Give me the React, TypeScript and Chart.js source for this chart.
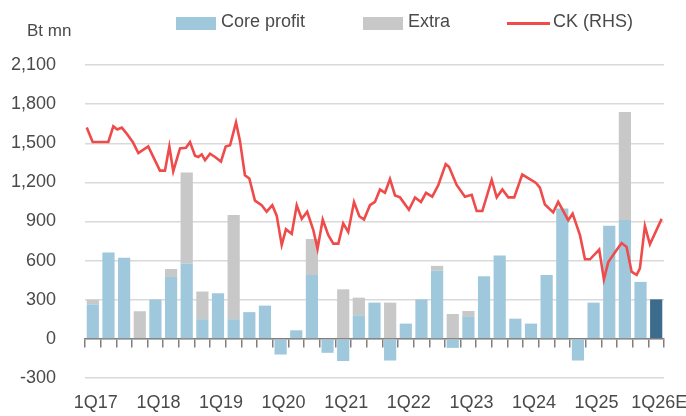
import React, { useEffect, useRef } from 'react';
import { Chart, registerables } from 'chart.js';

Chart.register(...registerables);

// ---------- DATA ----------
const categories = [
  '1Q17', '2Q17', '3Q17', '4Q17',
  '1Q18', '2Q18', '3Q18', '4Q18',
  '1Q19', '2Q19', '3Q19', '4Q19',
  '1Q20', '2Q20', '3Q20', '4Q20',
  '1Q21', '2Q21', '3Q21', '4Q21',
  '1Q22', '2Q22', '3Q22', '4Q22',
  '1Q23', '2Q23', '3Q23', '4Q23',
  '1Q24', '2Q24', '3Q24', '4Q24',
  '1Q25', '2Q25', '3Q25', '4Q25',
  '1Q26E',
];

const shownTickLabels = ['1Q17', '1Q18', '1Q19', '1Q20', '1Q21', '1Q22', '1Q23', '1Q24', '1Q25', '1Q26E'];

const coreProfit = [
  265, 662, 623, 0,
  302, 475, 577, 151,
  350, 151, 205, 255,
  -120, 66, 490, -107,
  -170, 181, 278, -166,
  117, 303, 524, -69,
  168, 480, 640, 155,
  117, 490, 1000, -166,
  278, 868, 912, 437,
  303,
];

const extra = [
  35, 0, 0, 212,
  0, 61, 698, 212,
  0, 799, 0, 0,
  0, 0, 276, 0,
  380, 135, 0, 278,
  0, 0, 36, 191,
  46, 0, 0, 0,
  0, 0, 0, 0,
  0, 0, 827, 0,
  0,
];

// CK share price (RHS), position in quarters from 1Q17 (0 = 1Q17)
const ckQuarter = [
  -0.39, -0.01, 0.99, 1.31, 1.56, 1.85, 2.16, 2.55, 2.91, 3.54,
  4.29, 4.61, 4.89, 5.14, 5.57, 5.95, 6.21, 6.53, 6.74, 6.96,
  7.17, 7.49, 7.81, 8.19, 8.49, 8.77, 9.15, 9.40, 9.72, 10.0,
  10.36, 10.79, 11.11, 11.47, 11.75, 12.07, 12.34, 12.71, 13.03, 13.35,
  13.70, 14.09, 14.36, 14.69, 15.05, 15.37, 15.69, 16.0, 16.32, 16.69,
  17.03, 17.33, 17.71, 18.03, 18.35, 18.67, 18.99, 19.31, 19.63, 20.20,
  20.59, 20.97, 21.29, 21.69, 22.08, 22.55, 22.76, 23.25, 23.78, 24.21,
  24.53, 24.89, 25.49, 25.81, 26.17, 26.55, 26.93, 27.44, 28.0, 28.32,
  28.57, 28.89, 29.42, 29.74, 30.38, 30.66, 31.13, 31.45, 31.77, 32.36,
  32.66, 32.94, 33.37, 33.79, 34.11, 34.43, 34.75, 34.96, 35.28, 35.60,
  36.35,
];

const ckValues = [
  1620, 1510, 1510, 1630, 1605, 1620, 1575, 1510, 1425, 1475,
  1290, 1290, 1475, 1285, 1460, 1465, 1510, 1405, 1395, 1415,
  1370, 1420, 1395, 1360, 1475, 1485, 1660, 1520, 1255, 1230,
  1060, 1025, 975, 1025, 945, 720, 840, 805, 1025, 920,
  975, 835, 690, 915, 795, 730, 730, 885, 820, 1050,
  940, 915, 1025, 1050, 1145, 1120, 1225, 1100, 1085, 990,
  1085, 1050, 1120, 1090, 1180, 1340, 1320, 1180, 1090, 1105,
  980, 980, 1220, 1085, 1145, 1085, 1085, 1260, 1220, 1195,
  1160, 1030, 970, 1050, 910, 960, 795, 610, 610, 685,
  455, 590, 665, 735, 705, 515, 490, 540, 865, 725,
  920,
];

const yTicks = [-300, 0, 300, 600, 900, 1200, 1500, 1800, 2100];

// ---------- STYLE ----------
const FONT = "'Liberation Sans', Arial, sans-serif";
const TEXT = '#4A4A4A';
const CORE = '#A0C8DC';
const CORE_EST = '#3D6B8C';
const EXTRA = '#C8C8C8';
const LINE = '#EF4B4B';

const legendItems = [
  { label: 'Core profit', kind: 'box', color: CORE, x: 176 },
  { label: 'Extra', kind: 'box', color: EXTRA, x: 363 },
  { label: 'CK (RHS)', kind: 'line', color: LINE, x: 507 },
];

const overlayPlugin = {
  id: 'overlay',
  afterDraw(chart: any) {
    const ctx = chart.ctx;
    ctx.save();
    ctx.fillStyle = TEXT;
    ctx.textBaseline = 'middle';
    ctx.textAlign = 'left';
    ctx.font = `17px ${FONT}`;
    ctx.fillText('Bt mn', 27, 31);
    ctx.font = `18px ${FONT}`;
    for (const it of legendItems) {
      if (it.kind === 'box') {
        ctx.fillStyle = it.color;
        ctx.fillRect(it.x, 17, 40, 13);
        ctx.fillStyle = TEXT;
        ctx.fillText(it.label, it.x + 45, 22);
      } else {
        ctx.strokeStyle = it.color;
        ctx.lineWidth = 3;
        ctx.beginPath();
        ctx.moveTo(it.x, 23.5);
        ctx.lineTo(it.x + 43, 23.5);
        ctx.stroke();
        ctx.fillStyle = TEXT;
        ctx.fillText(it.label, it.x + 46, 22);
      }
    }
    ctx.restore();
  },
};

export default function App() {
  const canvasRef = useRef<HTMLCanvasElement | null>(null);

  useEffect(() => {
    if (!canvasRef.current) return;
    const chart = new Chart(canvasRef.current, {
      type: 'bar',
      data: {
        labels: categories,
        datasets: [
          {
            type: 'line',
            label: 'CK (RHS)',
            data: ckQuarter.map((q, i) => ({ x: q, y: ckValues[i] })),
            xAxisID: 'x2',
            yAxisID: 'y2',
            borderColor: LINE,
            backgroundColor: LINE,
            borderWidth: 2.6,
            pointRadius: 0,
            tension: 0,
            order: 0,
          } as any,
          {
            type: 'bar',
            label: 'Core profit',
            data: coreProfit,
            xAxisID: 'x',
            yAxisID: 'y',
            backgroundColor: (c: any) => (c.dataIndex === categories.length - 1 ? CORE_EST : CORE),
            stack: 's',
            grouped: false,
            barPercentage: 0.78,
            categoryPercentage: 1,
            order: 1,
          },
          {
            type: 'bar',
            label: 'Extra',
            data: extra,
            xAxisID: 'x',
            yAxisID: 'y',
            backgroundColor: EXTRA,
            stack: 's',
            grouped: false,
            barPercentage: 0.78,
            categoryPercentage: 1,
            order: 1,
          },
        ],
      },
      options: {
        responsive: false,
        animation: false,
        layout: { padding: { left: 0, right: 22, top: 65, bottom: 0 } },
        plugins: {
          legend: { display: false },
          tooltip: { enabled: false },
        },
        scales: {
          x: {
            type: 'category',
            position: 'bottom',
            stacked: true,
            offset: true,
            grid: { display: false, drawTicks: false },
            border: { display: false },
            ticks: {
              autoSkip: false,
              maxRotation: 0,
              minRotation: 0,
              padding: 14,
              labelOffset: 3,
              color: TEXT,
              font: { size: 18, family: FONT },
              callback: (v: any, i: number) => (shownTickLabels.includes(categories[i]) ? categories[i] : ''),
            },
            afterFit: (s: any) => {
              s.height = 38;
              s.paddingLeft = 0;
              s.paddingRight = 0;
            },
          },
          xt: {
            type: 'category',
            position: { y: 0 },
            offset: true,
            grid: {
              offset: true,
              drawOnChartArea: false,
              drawTicks: true,
              tickLength: 8,
              color: '#7F7F7F',
              lineWidth: 1.5,
            },
            border: { display: true, color: '#7F7F7F', width: 1.5 },
            ticks: { display: false },
          } as any,
          x2: {
            type: 'linear',
            display: false,
            offset: false,
            min: -0.5,
            max: categories.length - 0.5,
          },
          y: {
            type: 'linear',
            position: 'left',
            stacked: true,
            min: yTicks[0],
            max: yTicks[yTicks.length - 1],
            afterBuildTicks: (s: any) => {
              s.ticks = yTicks.map((v) => ({ value: v }));
            },
            grid: { color: '#D9D9D9', lineWidth: 1.5, drawTicks: false },
            border: { display: false },
            ticks: {
              padding: 29,
              color: TEXT,
              font: { size: 18, family: FONT },
              callback: (v: any) => Number(v).toLocaleString('en-US'),
            },
            afterFit: (s: any) => {
              s.width = 85;
              s.paddingTop = 0;
              s.paddingBottom = 0;
            },
          },
          y2: {
            type: 'linear',
            display: false,
            min: yTicks[0],
            max: yTicks[yTicks.length - 1],
          },
        },
      } as any,
      plugins: [overlayPlugin],
    });
    return () => chart.destroy();
  }, []);

  return (
    <div style={{ position: 'fixed', left: 0, top: 0, width: 686, height: 416, background: '#fff' }}>
      <canvas ref={canvasRef} width={686} height={416} />
    </div>
  );
}
